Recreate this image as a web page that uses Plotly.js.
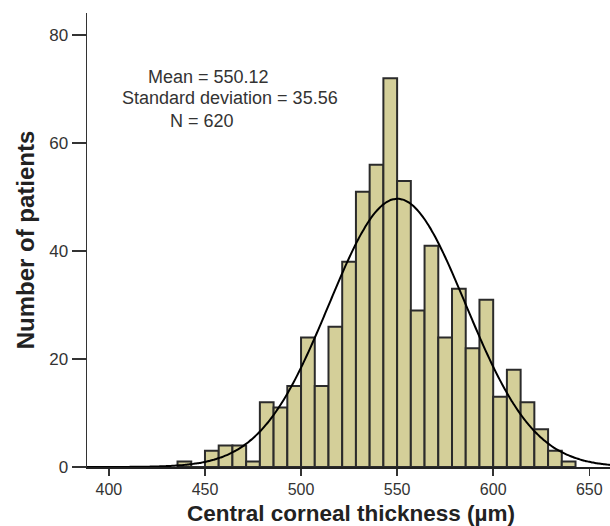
<!DOCTYPE html>
<html>
<head>
<meta charset="utf-8">
<script src="https://cdn.plot.ly/plotly-3.0.1.min.js"></script>
<style>html,body{margin:0;padding:0;background:#fff;}#chart{width:610px;height:526px;}</style>
</head>
<body>
<div id="chart"></div>
<script>
// Histogram of central corneal thickness (µm)
const binStart = 435.714;           // left edge of first bin
const binWidth = 50 / 7;            // bin width (µm)
const counts = [1, 0, 3, 4, 4, 1, 12, 11, 15, 24, 15, 26, 38, 51, 56, 72, 53, 29, 41, 24, 33, 22, 31, 13, 18, 12, 7, 3, 1];
const meanCCT = 550.12;
const sdCCT = 35.56;
const nPatients = 620;
const statLabels = ["Mean = 550.12", "Standard deviation = 35.56", "N = 620"];
const xTitle = "Central corneal thickness (µm)";
const yTitle = "Number of patients";
const xTicks = [400, 450, 500, 550, 600, 650];
const yTicks = [0, 20, 40, 60, 80];

const binCenters = counts.map((c, i) => binStart + binWidth * (i + 0.5));

// fitted normal curve scaled to counts
const curveX = [];
const curveY = [];
for (let x = 388; x <= 662; x += 1) {
  curveX.push(x);
  const z = (x - meanCCT) / sdCCT;
  curveY.push(nPatients * binWidth / (sdCCT * Math.sqrt(2 * Math.PI)) * Math.exp(-0.5 * z * z));
}

const font = "Liberation Sans, Arial, Helvetica, sans-serif";

const traces = [
  {
    type: "bar",
    x: binCenters,
    y: counts,
    width: binWidth,
    marker: {color: "#d4cf99", line: {color: "#2b2b2b", width: 2}},
    hoverinfo: "x+y",
    showlegend: false
  },
  {
    type: "scatter",
    mode: "lines",
    x: curveX,
    y: curveY,
    line: {color: "#000", width: 2, shape: "spline"},
    hoverinfo: "skip",
    showlegend: false
  }
];

const annPos = [[0.2330, 0.8580], [0.2743, 0.8128], [0.2208, 0.7632]];
const annotations = statLabels.map((t, i) => ({
  text: t, xref: "paper", yref: "paper", x: annPos[i][0], y: annPos[i][1],
  xanchor: "center", yanchor: "middle", showarrow: false,
  font: {family: font, size: 18, color: "#333"}
}));
annotations.push({
  text: "<b>" + xTitle + "</b>", xref: "paper", yref: "paper", x: 0.5057, y: -0.1035,
  xanchor: "center", yanchor: "middle", showarrow: false,
  font: {family: font, size: 22.5, color: "#222"}
});

const layout = {
  width: 610, height: 526,
  margin: {l: 87, r: 0, t: 13, b: 59},
  paper_bgcolor: "#fff", plot_bgcolor: "#fff",
  font: {family: font, color: "#333"},
  bargap: 0,
  xaxis: {
    range: [388.6, 660.8],
    tickvals: xTicks,
    ticks: "outside", ticklen: 7, tickwidth: 1.5, tickcolor: "#333",
    showline: true, linecolor: "#222", linewidth: 2,
    showgrid: false, zeroline: false,
    tickfont: {family: font, size: 16, color: "#333"}
  },
  yaxis: {
    range: [0, 84.1],
    tickvals: yTicks,
    ticks: "outside", ticklen: 14, tickwidth: 1.5, tickcolor: "#333",
    showline: true, linecolor: "#333", linewidth: 1.5,
    showgrid: false, zeroline: false,
    tickfont: {family: font, size: 17, color: "#333"},
    title: {text: yTitle, font: {family: font, size: 24, color: "#222", weight: "bold"}, standoff: 8}
  },
  annotations: annotations
};

Plotly.newPlot("chart", traces, layout, {displayModeBar: false, staticPlot: true});
</script>
</body>
</html>
